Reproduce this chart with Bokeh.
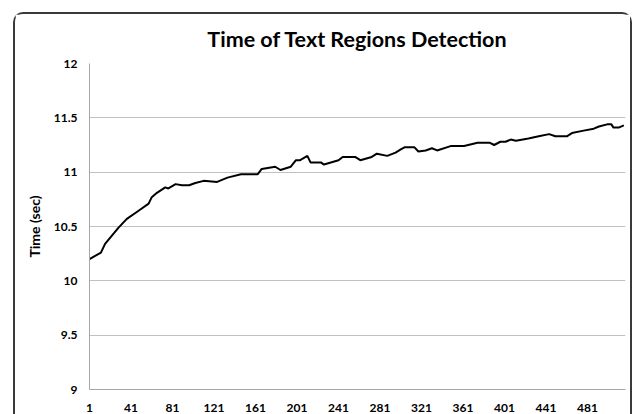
from bokeh.plotting import figure
from bokeh.models import Range1d, FixedTicker
from bokeh.embed import file_html
from bokeh.resources import INLINE

title_text = "Time of Text Regions Detection"
y_label = "Time (sec)"

sample = [1, 12, 16, 29, 37, 49, 58, 61, 66, 74, 77, 84, 90, 97, 103, 111, 124,
          134, 147, 163, 167, 180, 185, 195, 200, 204, 211, 214, 224, 227, 241,
          245, 257, 262, 273, 278, 288, 296, 301, 305, 314, 318, 325, 331, 336,
          349, 362, 375, 387, 391, 397, 402, 407, 412, 424, 434, 444, 450, 461,
          466, 476, 487, 492, 500, 504, 506, 511, 516]
time_sec = [10.20, 10.26, 10.34, 10.49, 10.57, 10.65, 10.71, 10.77, 10.81, 10.86,
            10.85, 10.89, 10.88, 10.88, 10.90, 10.92, 10.91, 10.95, 10.98, 10.98,
            11.03, 11.05, 11.02, 11.05, 11.11, 11.11, 11.15, 11.09, 11.09, 11.07,
            11.11, 11.14, 11.14, 11.11, 11.14, 11.17, 11.15, 11.18, 11.21, 11.23,
            11.23, 11.19, 11.20, 11.22, 11.20, 11.24, 11.24, 11.27, 11.27, 11.25,
            11.28, 11.28, 11.30, 11.29, 11.31, 11.33, 11.35, 11.33, 11.33, 11.36,
            11.38, 11.40, 11.42, 11.44, 11.44, 11.41, 11.41, 11.43]

x_ticks = [1, 41, 81, 121, 161, 201, 241, 281, 321, 361, 401, 441, 481]
y_ticks = [9, 9.5, 10, 10.5, 11, 11.5, 12]
y_tick_labels = ["9", "9.5", "10", "10.5", "11", "11.5", "12"]

FONT = "Lato"

p = figure(width=619, height=402, output_backend="svg", toolbar_location=None,
           x_range=Range1d(1, 517.6), y_range=Range1d(9, 12),
           min_border_left=74, min_border_right=9, min_border_top=49,
           min_border_bottom=27)
p.margin = (12, 0, 0, 13)
p.styles = {"border": "2px solid #3a3a3a", "border-bottom": "none",
            "border-radius": "10px 10px 0 0", "box-sizing": "border-box"}

p.title.text = title_text
p.title.align = "center"
p.title.vertical_align = "top"
p.title.text_font = FONT
p.title.text_font_size = "21.5px"
p.title.text_font_style = "bold"
p.title.text_color = "#000000"
p.title.standoff = 20

p.line(sample, time_sec, line_color="#000000", line_width=2)

p.xaxis.ticker = FixedTicker(ticks=x_ticks)
p.yaxis.ticker = FixedTicker(ticks=y_ticks)
p.yaxis.major_label_overrides = {t: s for t, s in zip(y_ticks, y_tick_labels)}

for ax in (p.xaxis, p.yaxis):
    ax.major_tick_line_color = None
    ax.major_tick_out = 0
    ax.major_tick_in = 0
    ax.minor_tick_line_color = None
    ax.minor_tick_out = 0
    ax.axis_line_color = "#a6a6a6"
    ax.major_label_text_font = FONT
    ax.major_label_text_font_style = "bold"
    ax.major_label_text_font_size = "12px"
    ax.major_label_text_color = "#000000"

p.xaxis.major_label_standoff = 14
p.yaxis.major_label_standoff = 12
p.yaxis.axis_label = y_label
p.yaxis.axis_label_text_font = FONT
p.yaxis.axis_label_text_font_style = "bold"
p.yaxis.axis_label_text_font_size = "14px"
p.yaxis.axis_label_text_color = "#000000"
p.yaxis.axis_label_standoff = 8

p.xgrid.grid_line_color = None
p.ygrid.grid_line_color = "#c0c0c0"
p.ygrid.grid_line_width = 1
p.outline_line_color = None

open("out.html", "w").write(file_html(p, INLINE))
